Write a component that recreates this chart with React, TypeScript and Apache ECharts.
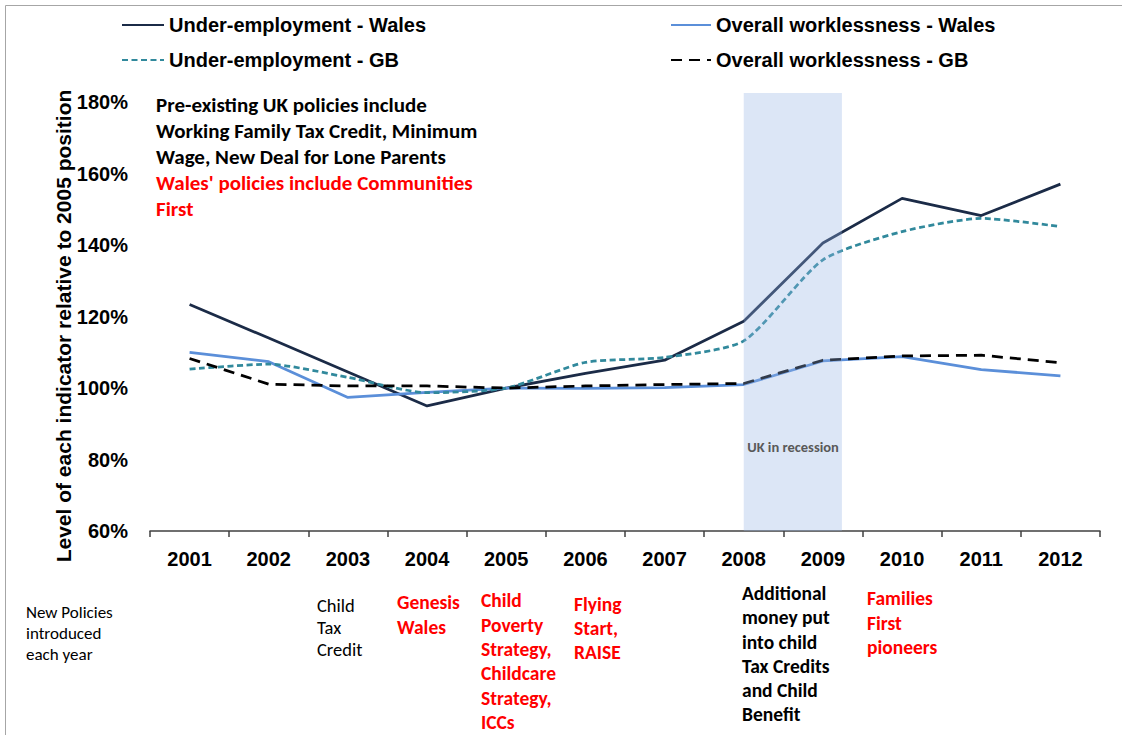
import React, { useEffect, useRef } from "react";
import * as echarts from "echarts";

const years = ["2001", "2002", "2003", "2004", "2005", "2006", "2007", "2008", "2009", "2010", "2011", "2012"];
const underEmpWales = [123.4, 114.0, 104.5, 95.0, 100, 104.1, 107.8, 118.7, 140.6, 153.1, 148.3, 157.1];
const underEmpGB = [105.3, 106.7, 103.0, 98.7, 100, 107.2, 108.6, 113.2, 135.9, 143.8, 147.5, 145.2];
const worklessWales = [110.0, 107.4, 97.4, 98.8, 100, 99.9, 100.1, 101.0, 107.6, 108.8, 105.2, 103.4];
const worklessGB = [108.3, 101.1, 100.6, 100.6, 100, 100.6, 101.0, 101.3, 107.8, 109.0, 109.2, 107.1];
const seriesNames = [
  "Under-employment - Wales",
  "Overall worklessness - Wales",
  "Under-employment - GB",
  "Overall worklessness - GB",
];
const yMin = 60;
const yMax = 182.6;
const yStep = 20;
// recession shading in year-position units (2001 = 1)
const recessionSpan = [8, 9.24];
const recessionLabel = "UK in recession";
const axisTitle = "Level of each indicator relative to 2005 position";
const preExisting = "Pre-existing UK policies include\nWorking Family Tax Credit, Minimum\nWage, New Deal for Lone Parents";
const walesPolicies = "Wales' policies include Communities\nFirst";
const newPoliciesLabel = "New Policies\nintroduced\neach year";
const policyNotes = [
  { text: "Child\nTax\nCredit", red: false, bold: false },
  { text: "Genesis\nWales", red: true, bold: true },
  { text: "Child\nPoverty\nStrategy,\nChildcare\nStrategy,\nICCs", red: true, bold: true },
  { text: "Flying\nStart,\nRAISE", red: true, bold: true },
  { text: "Additional\nmoney put\ninto child\nTax Credits\nand Child\nBenefit", red: false, bold: true },
  { text: "Families\nFirst\npioneers", red: true, bold: true },
];

const ARIAL = "'Liberation Sans', Arial, sans-serif";
const CAL = "Carlito, Calibri, Lato, sans-serif";

export default function App() {
  const ref = useRef<HTMLDivElement>(null);
  useEffect(() => {
    if (!ref.current) return;
    const chart = echarts.init(ref.current, undefined, { renderer: "svg" });
    const notePos = [
      { x: 317, y: 594, lh: 22, size: 18.5 },
      { x: 397, y: 590, lh: 24.5, size: 19.5 },
      { x: 481, y: 588, lh: 24.4, size: 19.5 },
      { x: 574, y: 592, lh: 24, size: 19.5 },
      { x: 742, y: 581, lh: 24.2, size: 19.5 },
      { x: 867, y: 586, lh: 24.4, size: 19.5 },
    ];
    const legendPos = [
      { left: 121, top: 15 },
      { left: 670, top: 15 },
      { left: 121, top: 50 },
      { left: 670, top: 50 },
    ];
    const option: any = {
      animation: false,
      backgroundColor: "#ffffff",
      grid: { left: 150, right: 22, top: 93, bottom: 204 },
      legend: seriesNames.map((n, i) => ({
        data: [n],
        left: legendPos[i].left,
        top: legendPos[i].top,
        padding: 0,
        itemWidth: i % 2 === 0 ? 42 : 40,
        itemHeight: 14,
        itemStyle: { opacity: 0 },
        textStyle: { fontFamily: ARIAL, fontWeight: "bold", fontSize: 20, color: "#000" },
      })),
      xAxis: [
        {
          type: "category",
          data: years,
          boundaryGap: true,
          axisLine: { lineStyle: { color: "#404040", width: 1.5 } },
          axisTick: { show: true, length: 6, lineStyle: { color: "#404040", width: 1.5 } },
          axisLabel: { margin: 18, fontFamily: ARIAL, fontWeight: "bold", fontSize: 20, color: "#000" },
          splitLine: { show: false },
        },
        { type: "value", min: 0.5, max: 12.5, show: false },
      ],
      yAxis: {
        type: "value",
        min: yMin,
        max: yMax,
        interval: yStep,
        axisLine: { show: false },
        axisTick: { show: false },
        splitLine: { show: false },
        axisLabel: {
          margin: 22,
          fontFamily: ARIAL,
          fontWeight: "bold",
          fontSize: 20,
          color: "#000",
          formatter: (v: number) => (Math.abs(v % yStep) < 1e-6 ? v + "%" : ""),
        },
      },
      series: [
        {
          name: seriesNames[0],
          type: "line",
          data: underEmpWales,
          symbol: "none",
          z: 3,
          lineStyle: { color: "#1b2b47", width: 2.75 },
          itemStyle: { color: "#1b2b47" },
        },
        {
          name: seriesNames[1],
          type: "line",
          data: worklessWales,
          symbol: "none",
          z: 3,
          lineStyle: { color: "#5b8fd9", width: 2.75 },
          itemStyle: { color: "#5b8fd9" },
        },
        {
          name: seriesNames[2],
          type: "line",
          data: underEmpGB,
          symbol: "none",
          smooth: 0.22,
          z: 3,
          lineStyle: { color: "#31899c", width: 2.75, type: [6, 3.5] },
          itemStyle: { color: "#31899c" },
        },
        {
          name: seriesNames[3],
          type: "line",
          data: worklessGB,
          symbol: "none",
          z: 3,
          lineStyle: { color: "#000000", width: 2.75, type: [11, 7] },
          itemStyle: { color: "#000000" },
        },
        {
          name: "recession",
          type: "line",
          xAxisIndex: 1,
          data: [[recessionSpan[0], yMin]],
          symbol: "none",
          silent: true,
          lineStyle: { opacity: 0 },
          z: 10,
          markArea: {
            silent: true,
            z: 10,
            itemStyle: { color: "rgba(150,180,228,0.33)" },
            label: { show: false },
            data: [[{ xAxis: recessionSpan[0], yAxis: yMin }, { xAxis: recessionSpan[1], yAxis: yMax }]],
          },
        },
      ],
      graphic: [
        {
          type: "rect",
          silent: true,
          shape: { x: 5.5, y: 5.5, width: 1300, height: 1000 },
          style: { fill: "none", stroke: "#a6a6a6", lineWidth: 1 },
        },
        {
          type: "text",
          x: 63,
          y: 326,
          rotation: Math.PI / 2,
          style: {
            text: axisTitle,
            font: `bold 21px ${ARIAL}`,
            fill: "#000",
            textAlign: "center",
            textVerticalAlign: "middle",
          },
        },
        {
          type: "text",
          x: 156,
          y: 92,
          style: { text: preExisting, font: `bold 21px ${CAL}`, fill: "#000", lineHeight: 26 },
        },
        {
          type: "text",
          x: 156,
          y: 170,
          style: { text: walesPolicies, font: `bold 21px ${CAL}`, fill: "#ff0000", lineHeight: 26 },
        },
        {
          type: "text",
          x: 793,
          y: 447,
          z: 20,
          style: {
            text: recessionLabel,
            font: `600 14.5px ${CAL}`,
            fill: "#595959",
            textAlign: "center",
            textVerticalAlign: "middle",
          },
        },
        {
          type: "text",
          x: 26,
          y: 602,
          style: { text: newPoliciesLabel, font: `17px ${CAL}`, fill: "#000", lineHeight: 21 },
        },
        ...policyNotes.map((p, i) => ({
          type: "text",
          x: notePos[i].x,
          y: notePos[i].y,
          style: {
            text: p.text,
            font: `${p.bold ? "bold " : ""}${notePos[i].size}px ${CAL}`,
            fill: p.red ? "#ff0000" : "#000",
            lineHeight: notePos[i].lh,
          },
        })),
      ],
    };
    chart.setOption(option);
    return () => chart.dispose();
  }, []);
  return <div ref={ref} style={{ position: "fixed", left: 0, top: 0, width: 1122, height: 735 }} />;
}
